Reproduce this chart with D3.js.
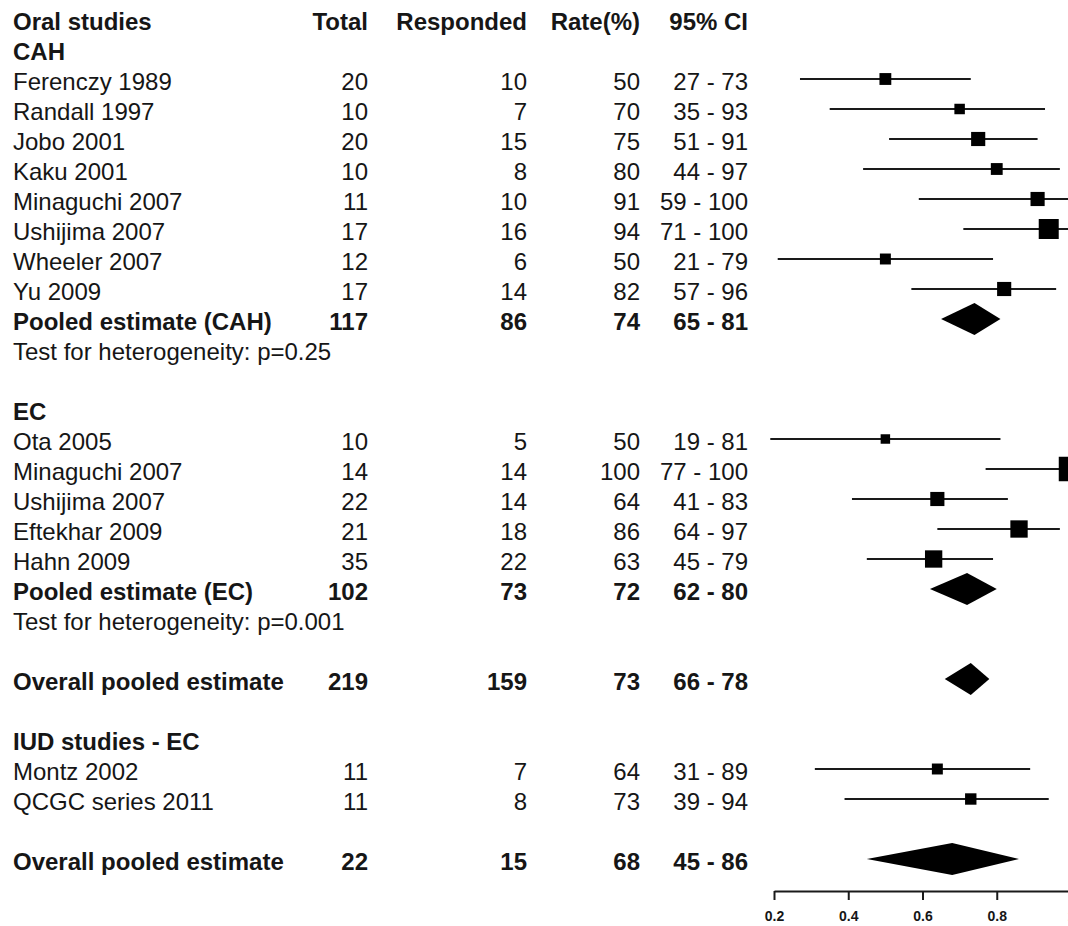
<!DOCTYPE html>
<html>
<head>
<meta charset="utf-8">
<script src="https://cdn.jsdelivr.net/npm/d3@7"></script>
<style>
  html, body { margin: 0; padding: 0; background: #fff; }
  svg { display: block; }
  text { font-family: "Liberation Sans", Arial, Helvetica, sans-serif; fill: #161616; }
</style>
</head>
<body>
<svg id="chart" width="1068" height="926"></svg>
<script>
// ---------------- data ----------------
const columnHeaders = ["Total", "Responded", "Rate(%)", "95% CI"];
const headerLabels = ["Oral studies", "CAH", "EC", "IUD studies - EC"];
const headerRows = [0, 1, 13, 24];
const noteLabels = ["Test for heterogeneity: p=0.25", "Test for heterogeneity: p=0.001"];
const noteRows = [11, 20];

const labels = ["Ferenczy 1989", "Randall 1997", "Jobo 2001", "Kaku 2001", "Minaguchi 2007",
  "Ushijima 2007", "Wheeler 2007", "Yu 2009", "Pooled estimate (CAH)",
  "Ota 2005", "Minaguchi 2007", "Ushijima 2007", "Eftekhar 2009", "Hahn 2009",
  "Pooled estimate (EC)", "Overall pooled estimate",
  "Montz 2002", "QCGC series 2011", "Overall pooled estimate"];
const rowOrder = [2, 3, 4, 5, 6, 7, 8, 9, 10, 14, 15, 16, 17, 18, 19, 22, 25, 26, 28];
const isSummary = [false, false, false, false, false, false, false, false, true,
  false, false, false, false, false, true, true, false, false, true];
const total = [20, 10, 20, 10, 11, 17, 12, 17, 117, 10, 14, 22, 21, 35, 102, 219, 11, 11, 22];
const responded = [10, 7, 15, 8, 10, 16, 6, 14, 86, 5, 14, 14, 18, 22, 73, 159, 7, 8, 15];
const rate = [50, 70, 75, 80, 91, 94, 50, 82, 74, 50, 100, 64, 86, 63, 72, 73, 64, 73, 68];
const ciLow = [27, 35, 51, 44, 59, 71, 21, 57, 65, 19, 77, 41, 64, 45, 62, 66, 31, 39, 45];
const ciHigh = [73, 93, 91, 97, 100, 100, 79, 96, 81, 81, 100, 83, 97, 79, 80, 78, 89, 94, 86];
const weight = [1.4, 1.1, 2.0, 1.4, 2.0, 4.0, 1.2, 2.0, 0, 0.9, 6.0, 2.0, 3.0, 3.0, 0, 0, 1.2, 1.3, 0];
const tickValues = [0.2, 0.4, 0.6, 0.8, 1.0];
const tickLabels = ["0.2", "0.4", "0.6", "0.8", "1"];

// ---------------- layout ----------------
const svg = d3.select("#chart");
const y = d3.scaleLinear().domain([0, 29]).range([19, 19 + 29 * 30]);
const x = d3.scaleLinear().domain([0.2, 1.0]).range([774, 1071]);
const boxSize = d3.scaleSqrt().domain([0, 1]).range([0, 10]);
const textDy = 11;
const fontSize = 24;
const labelX = 13;
const colRight = [368, 527, 640, 748];

const rows = labels.map((l, i) => ({
  label: l, row: rowOrder[i], summary: isSummary[i], total: total[i],
  responded: responded[i], rate: rate[i], lo: ciLow[i], hi: ciHigh[i], w: weight[i]
}));

// column headers
svg.append("g").selectAll("text").data(columnHeaders).join("text")
  .attr("x", (d, i) => colRight[i]).attr("y", y(0) + textDy)
  .attr("text-anchor", "end").attr("font-size", fontSize).attr("font-weight", "bold")
  .text(d => d);

// section headers
svg.append("g").selectAll("text").data(headerLabels).join("text")
  .attr("x", labelX).attr("y", (d, i) => y(headerRows[i]) + textDy)
  .attr("font-size", fontSize).attr("font-weight", "bold")
  .text(d => d);

// notes
svg.append("g").selectAll("text").data(noteLabels).join("text")
  .attr("x", labelX).attr("y", (d, i) => y(noteRows[i]) + textDy)
  .attr("font-size", fontSize)
  .text(d => d);

// table rows
const tbl = svg.append("g").selectAll("g").data(rows).join("g")
  .attr("font-size", fontSize)
  .attr("font-weight", d => d.summary ? "bold" : "normal");
tbl.append("text").attr("x", labelX).attr("y", d => y(d.row) + textDy).text(d => d.label);
const cols = [d => d.total, d => d.responded, d => d.rate, d => d.lo + " - " + d.hi];
cols.forEach((f, ci) => {
  tbl.append("text").attr("x", colRight[ci]).attr("y", d => y(d.row) + textDy)
    .attr("text-anchor", "end").text(f);
});

// plot marks
const plot = svg.append("g");
const studies = rows.filter(d => !d.summary);
const summaries = rows.filter(d => d.summary);

plot.selectAll("line.ci").data(studies).join("line")
  .attr("class", "ci")
  .attr("x1", d => x(d.lo / 100)).attr("x2", d => x(d.hi / 100))
  .attr("y1", d => y(d.row)).attr("y2", d => y(d.row))
  .attr("stroke", "#1a1a1a").attr("stroke-width", 2);

plot.selectAll("rect.box").data(studies).join("rect")
  .attr("class", "box")
  .attr("x", d => x(d.rate / 100) - boxSize(d.w) / 2)
  .attr("y", d => y(d.row) - boxSize(d.w) / 2)
  .attr("width", d => boxSize(d.w)).attr("height", d => boxSize(d.w))
  .attr("fill", "#000");

const dh = 16;
plot.selectAll("path.diamond").data(summaries).join("path")
  .attr("class", "diamond")
  .attr("d", d => {
    const cy = y(d.row);
    return `M${x(d.lo / 100)},${cy} L${x(d.rate / 100)},${cy - dh} L${x(d.hi / 100)},${cy} L${x(d.rate / 100)},${cy + dh} Z`;
  })
  .attr("fill", "#000");

// axis
const axisY = y(29) + 2;
const axis = d3.axisBottom(x).tickValues(tickValues)
  .tickFormat((d, i) => tickLabels[i]).tickSize(9).tickSizeOuter(0);
const ax = svg.append("g").attr("transform", `translate(0,${axisY})`).call(axis);
ax.select(".domain").attr("stroke", "#1a1a1a").attr("stroke-width", 2);
ax.selectAll(".tick line").attr("stroke", "#1a1a1a").attr("stroke-width", 2);
ax.selectAll(".tick text")
  .attr("font-family", "'Liberation Sans', Arial, sans-serif")
  .attr("font-size", 14).attr("font-weight", "bold").attr("fill", "#161616")
  .attr("dy", "0.71em").attr("y", 20);
</script>
</body>
</html>
